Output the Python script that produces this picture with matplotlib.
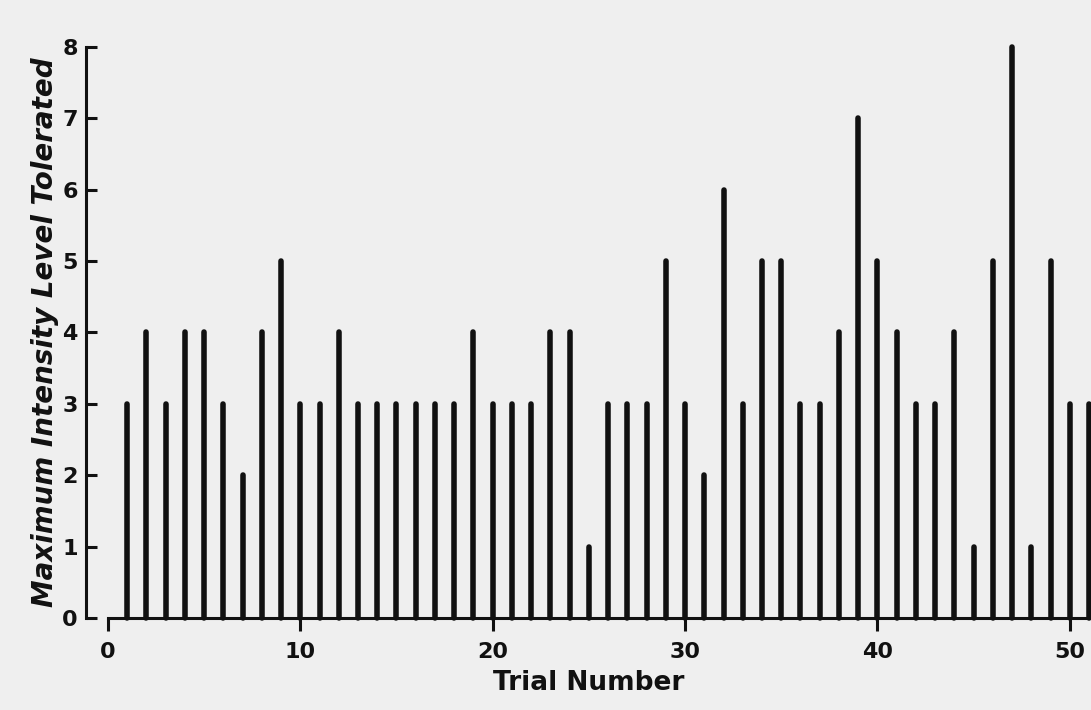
import matplotlib

matplotlib.use("Agg")
import matplotlib.pyplot as plt  # noqa: E402

# Maximum intensity level tolerated on each trial
trials = list(range(1, 52))
levels = [
    3, 4, 3, 4, 4, 3, 2, 4, 5, 3,
    3, 4, 3, 3, 3, 3, 3, 3, 4, 3,
    3, 3, 4, 4, 1, 3, 3, 3, 5, 3,
    2, 6, 3, 5, 5, 3, 3, 4, 7, 5,
    4, 3, 3, 4, 1, 5, 8, 1, 5, 3,
    3,
]
x_ticks = [0, 10, 20, 30, 40, 50]
y_ticks = list(range(0, 9))

PAPER = "#efefef"
INK = "#111111"

fig = plt.figure(figsize=(10.91, 7.10), dpi=100, facecolor=PAPER)
ax = fig.add_axes([0.0788, 0.1296, 0.9212, 0.8042], facecolor=PAPER)

# spikes drawn unclipped so the rounded tops above 8 stay visible
spikes = ax.vlines(trials, 0, levels, colors=INK, linewidth=4.0, clip_on=False)
spikes.set_capstyle("round")

ax.set_xlim(-1.14, 51.1)
ax.set_ylim(0, 8)

for side in ("top", "right"):
    ax.spines[side].set_visible(False)
for side in ("left", "bottom"):
    ax.spines[side].set_linewidth(2.2)
    ax.spines[side].set_color(INK)
ax.spines["bottom"].set_bounds(0, 51.1)

ax.set_xticks(x_ticks)
ax.set_yticks(y_ticks)
ax.tick_params(axis="y", direction="in", length=8, width=2.2, pad=6,
               labelsize=16, colors=INK)
ax.tick_params(axis="x", direction="out", length=9, width=2.2, pad=8,
               labelsize=16, colors=INK)
for lab in ax.get_xticklabels() + ax.get_yticklabels():
    lab.set_fontweight("bold")

ax.set_xlabel("Trial Number", fontsize=19, fontweight="bold", color=INK,
              labelpad=6)
ax.set_ylabel("Maximum Intensity Level Tolerated", fontsize=20,
              fontweight="bold", style="italic", color=INK, labelpad=2)

fig.savefig("out.png", dpi=100, facecolor=PAPER)
